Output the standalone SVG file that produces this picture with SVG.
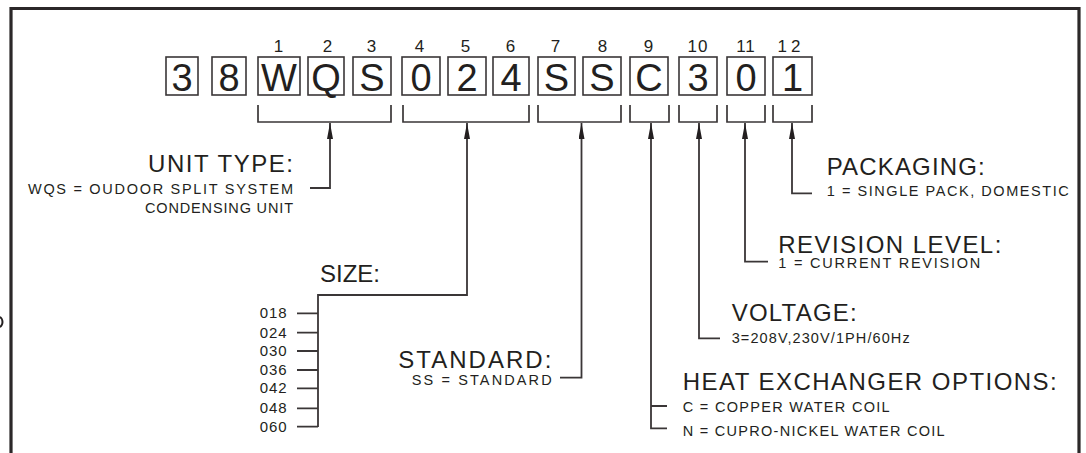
<svg xmlns="http://www.w3.org/2000/svg" width="1086" height="453" viewBox="0 0 1086 453">
<style>
.frame{fill:none;stroke:#2b2829;stroke-width:3.2}
.box rect{fill:#fff;stroke:#3a3637;stroke-width:1.6}
.box text{font-family:"Liberation Sans",Arial,sans-serif;font-size:38px;fill:#231f20;text-anchor:middle}
.idx{font-family:"Liberation Sans",Arial,sans-serif;font-size:17px;fill:#231f20;text-anchor:middle;letter-spacing:1px}
.br{fill:none;stroke:#3a3637;stroke-width:1.7}
.con path{fill:none;stroke:#3a3637;stroke-width:1.8}
.arr{marker-start:url(#ah)}
.t{font-family:"Liberation Sans",Arial,sans-serif;font-size:24px;fill:#231f20}
.s{font-family:"Liberation Sans",Arial,sans-serif;font-size:14.5px;fill:#231f20}
.n{font-family:"Liberation Sans",Arial,sans-serif;font-size:15px;fill:#231f20;text-anchor:end}
.e{text-anchor:end}
</style>
<defs>
<marker id="ah" viewBox="0 0 16 6" refX="16" refY="3" markerWidth="16" markerHeight="6" markerUnits="userSpaceOnUse" orient="auto-start-reverse">
<path d="M0,0 L16,3 L0,6 Z" fill="#231f20"/>
</marker>
</defs>
<rect width="1086" height="453" fill="#fff"/>
<path class="frame" d="M11,460 V8.5 H1079 V460"/>
<ellipse cx="-1" cy="322" rx="3.5" ry="5" fill="none" stroke="#231f20" stroke-width="2"/>

<g id="code">
<g class="box" id="c1"><rect x="166" y="57" width="32" height="38"/><text x="182" y="91">3</text></g>
<g class="box" id="c2"><rect x="212" y="57" width="34" height="38"/><text x="229" y="91">8</text></g>
<g class="box" id="c3"><rect x="258" y="57" width="42" height="38"/><text x="279" y="91">W</text></g>
<g class="box" id="c4"><rect x="308" y="57" width="36" height="38"/><text x="326" y="91">Q</text></g>
<g class="box" id="c5"><rect x="353" y="57" width="38" height="38"/><text x="372" y="91">S</text></g>
<g class="box" id="c6"><rect x="402" y="57" width="38" height="38"/><text x="421" y="91">0</text></g>
<g class="box" id="c7"><rect x="448" y="57" width="38" height="38"/><text x="467" y="91">2</text></g>
<g class="box" id="c8"><rect x="493" y="57" width="36" height="38"/><text x="511" y="91">4</text></g>
<g class="box" id="c9"><rect x="538" y="57" width="37" height="38"/><text x="556.5" y="91">S</text></g>
<g class="box" id="c10"><rect x="583" y="57" width="38" height="38"/><text x="602" y="91">S</text></g>
<g class="box" id="c11"><rect x="630" y="57" width="38" height="38"/><text x="649" y="91">C</text></g>
<g class="box" id="c12"><rect x="679" y="57" width="38" height="38"/><text x="698" y="91">3</text></g>
<g class="box" id="c13"><rect x="727" y="57" width="38" height="38"/><text x="746" y="91">0</text></g>
<g class="box" id="c14"><rect x="773" y="57" width="39" height="38"/><text x="792.5" y="91">1</text></g>
</g>

<g id="indices">
<text class="idx" x="279" y="52">1</text>
<text class="idx" x="328" y="52">2</text>
<text class="idx" x="372" y="52">3</text>
<text class="idx" x="420" y="52">4</text>
<text class="idx" x="466" y="52">5</text>
<text class="idx" x="511" y="52">6</text>
<text class="idx" x="556" y="52">7</text>
<text class="idx" x="603" y="52">8</text>
<text class="idx" x="649" y="52">9</text>
<text class="idx" x="698" y="52">10</text>
<text class="idx" x="746" y="52">11</text>
<text class="idx" x="791" y="52" style="letter-spacing:4px">12</text>
</g>

<g id="brackets">
<path class="br" d="M258,105 V122 H391 V105"/>
<path class="br" d="M403,105 V122 H529 V105"/>
<path class="br" d="M538,105 V122 H621 V105"/>
<path class="br" d="M630,105 V122 H669 V105"/>
<path class="br" d="M679,105 V122 H717 V105"/>
<path class="br" d="M727,105 V122 H765 V105"/>
<path class="br" d="M773,105 V122 H812 V105"/>
</g>

<g id="connectors" class="con">
<path class="arr" d="M330,123 V188 H310"/>
<path class="arr" d="M467,123 V295 H318 V427"/>
<path d="M297,313.3 H318 M297,332.7 H318 M297,351 H318 M297,370 H318 M297,388.3 H318 M297,408.3 H318 M297,426.7 H318"/>
<path class="arr" d="M581.5,123 V377.7 H560"/>
<path class="arr" d="M651,123 V428.3 H667 M651,406 H667"/>
<path class="arr" d="M699,123 V338.3 H720"/>
<path class="arr" d="M745,123 V261.7 H768"/>
<path class="arr" d="M792,123 V193.3 H812"/>
</g>

<g id="unit-type">
<text class="t e" x="293" y="171.7" textLength="145" lengthAdjust="spacing">UNIT TYPE:</text>
<text class="s e" x="293" y="194" textLength="265" lengthAdjust="spacing">WQS = OUDOOR SPLIT SYSTEM</text>
<text class="s e" x="293" y="213.3" textLength="148" lengthAdjust="spacing">CONDENSING UNIT</text>
</g>

<g id="size">
<text class="t" x="320" y="281.7" textLength="60" lengthAdjust="spacing">SIZE:</text>
<text class="n" x="286.7" y="318.3" textLength="27" lengthAdjust="spacing">018</text>
<text class="n" x="286.7" y="337.5" textLength="27" lengthAdjust="spacing">024</text>
<text class="n" x="286.7" y="356" textLength="27" lengthAdjust="spacing">030</text>
<text class="n" x="286.7" y="375" textLength="27" lengthAdjust="spacing">036</text>
<text class="n" x="286.7" y="393.3" textLength="27" lengthAdjust="spacing">042</text>
<text class="n" x="286.7" y="413" textLength="27" lengthAdjust="spacing">048</text>
<text class="n" x="286.7" y="431.5" textLength="27" lengthAdjust="spacing">060</text>
</g>

<g id="standard">
<text class="t" x="398.3" y="368.3" textLength="153" lengthAdjust="spacing">STANDARD:</text>
<text class="s" x="411.7" y="384.5" textLength="140" lengthAdjust="spacing">SS = STANDARD</text>
</g>

<g id="heat-exchanger">
<text class="t" x="682.7" y="390" textLength="374" lengthAdjust="spacing">HEAT EXCHANGER OPTIONS:</text>
<text class="s" x="682.7" y="411.5" textLength="207" lengthAdjust="spacing">C = COPPER WATER COIL</text>
<text class="s" x="682.7" y="436" textLength="262" lengthAdjust="spacing">N = CUPRO-NICKEL WATER COIL</text>
</g>

<g id="voltage">
<text class="t" x="731.7" y="320.7" textLength="125" lengthAdjust="spacing">VOLTAGE:</text>
<text class="s" x="731.7" y="343" textLength="178" lengthAdjust="spacing">3=208V,230V/1PH/60Hz</text>
</g>

<g id="revision">
<text class="t" x="778.3" y="253.3" textLength="223" lengthAdjust="spacing">REVISION LEVEL:</text>
<text class="s" x="778.3" y="267.5" textLength="202" lengthAdjust="spacing">1 = CURRENT REVISION</text>
</g>

<g id="packaging">
<text class="t" x="826.7" y="175" textLength="158" lengthAdjust="spacing">PACKAGING:</text>
<text class="s" x="826.7" y="195.5" textLength="242" lengthAdjust="spacing">1 = SINGLE PACK, DOMESTIC</text>
</g>
</svg>
